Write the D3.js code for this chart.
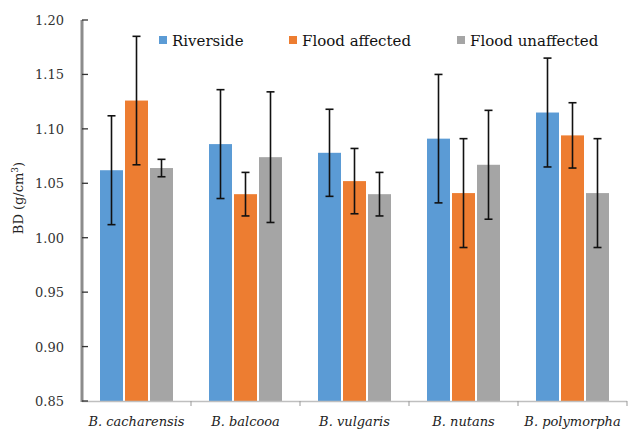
<!DOCTYPE html>
<html><head><meta charset="utf-8">
<script src="https://cdn.jsdelivr.net/npm/d3@7"></script>
<style>body{margin:0;background:#fff}svg{display:block}
text{font-family:"DejaVu Serif",serif}</style>
</head><body>
<svg id="c" width="628" height="432"></svg>
<script>
const categories = ["B. cacharensis","B. balcooa","B. vulgaris","B. nutans","B. polymorpha"];
const seriesNames = ["Riverside","Flood affected","Flood unaffected"];
const riverside = [1.062,1.086,1.078,1.091,1.115];
const floodAffected = [1.126,1.040,1.052,1.041,1.094];
const floodUnaffected = [1.064,1.074,1.040,1.067,1.041];
const errRiverside = [0.050,0.050,0.040,0.059,0.050];
const errFloodAffected = [0.059,0.020,0.030,0.050,0.030];
const errFloodUnaffected = [0.008,0.060,0.020,0.050,0.050];
const yTicks = [0.85,0.90,0.95,1.00,1.05,1.10,1.15,1.20];
const colors = ["#5B9BD5","#ED7D31","#A5A5A5"];

const values = [riverside, floodAffected, floodUnaffected];
const errs = [errRiverside, errFloodAffected, errFloodUnaffected];
const data = [];
categories.forEach((c,i)=>seriesNames.forEach((s,j)=>data.push({c,s,j,v:values[j][i],e:errs[j][i]})));

const svg = d3.select("#c");
const L=82, R=627, T=20, B=401;
const x = d3.scaleBand().domain(categories).range([L,R]).paddingInner(0).paddingOuter(0);
const y = d3.scaleLinear().domain([0.85,1.20]).range([B,T]);
const bw = 23, gap = 2;
const off = (x.bandwidth()-(3*bw+2*gap))/2;

svg.append("g").selectAll("rect").data(data).join("rect")
  .attr("x",d=>x(d.c)+off+d.j*(bw+gap))
  .attr("width",bw)
  .attr("y",d=>y(d.v)).attr("height",d=>B-y(d.v))
  .attr("fill",d=>colors[d.j]);

const eg = svg.append("g").attr("stroke","#111").attr("stroke-width",1.6);
data.forEach(d=>{
  const cx = x(d.c)+off+d.j*(bw+gap)+bw/2;
  eg.append("line").attr("x1",cx).attr("x2",cx).attr("y1",y(d.v+d.e)).attr("y2",y(d.v-d.e));
  [d.v+d.e,d.v-d.e].forEach(v=>eg.append("line").attr("x1",cx-4).attr("x2",cx+4).attr("y1",y(v)).attr("y2",y(v)));
});

const xa = svg.append("g");
xa.append("line").attr("x1",L).attr("x2",R).attr("y1",B+0.5).attr("y2",B+0.5).attr("stroke","#bfbfbf").attr("stroke-width",1.5);
const bounds = categories.map(c=>x(c)).concat([R]);
bounds.slice(1).forEach(bx=>xa.append("line").attr("x1",bx).attr("x2",bx).attr("y1",B).attr("y2",B+5).attr("stroke","#999"));
xa.selectAll("text").data(categories).join("text")
  .attr("x",d=>x(d)+x.bandwidth()/2).attr("y",426)
  .attr("text-anchor","middle")
  .attr("font-style","italic").attr("font-size",13).attr("fill","#222").text(d=>d);

const ya = svg.append("g");
ya.append("line").attr("x1",L).attr("x2",L).attr("y1",T).attr("y2",B+1).attr("stroke","#8c8c8c").attr("stroke-width",3);
ya.selectAll("line.t").data(yTicks).join("line").attr("class","t")
  .attr("x1",L).attr("x2",L+6).attr("y1",d=>y(d)).attr("y2",d=>y(d)).attr("stroke","#333").attr("stroke-width",1.3);
ya.selectAll("text").data(yTicks).join("text")
  .attr("x",64).attr("y",d=>y(d)+5).attr("text-anchor","end")
  .attr("font-size",13).attr("fill","#333")
  .text(d=>d3.format(".2f")(d));
svg.append("text").attr("transform","translate(23,198) rotate(-90)")
  .attr("text-anchor","middle").attr("font-size",13).attr("fill","#222")
  .html('BD (g/cm<tspan dy="-5" font-size="9">3</tspan><tspan dy="5">)</tspan>');

const legX = [159,289,457];
const lg = svg.append("g");
seriesNames.forEach((s,j)=>{
  lg.append("rect").attr("x",legX[j]).attr("y",36).attr("width",8).attr("height",8).attr("fill",colors[j]);
  lg.append("text").attr("x",legX[j]+13).attr("y",46).attr("font-size",15)
    .attr("fill","#111").text(s);
});
</script>
</body></html>
